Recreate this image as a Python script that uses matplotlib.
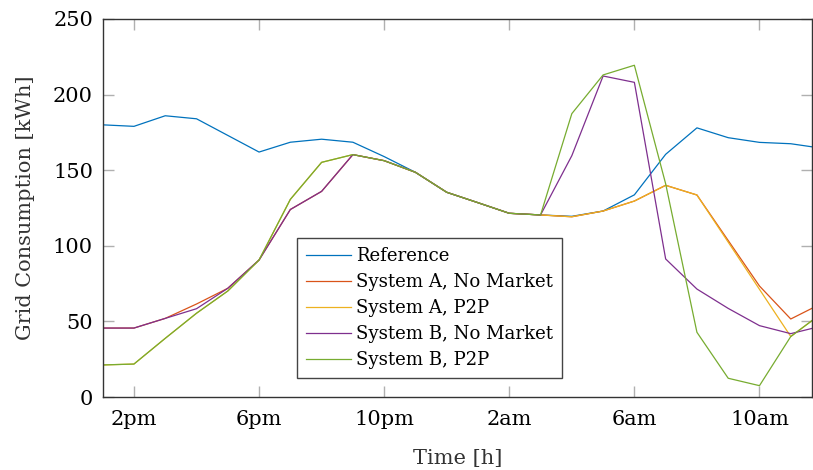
import matplotlib
matplotlib.use("Agg")
import matplotlib.pyplot as plt

hours = list(range(13, 37))  # 1pm .. noon next day
reference = [180, 179, 186, 184, 173, 162, 168.5, 170.5, 168.5, 159, 148.6, 135.4,
             128.5, 121.5, 120.4, 119.5, 123, 133.7, 160.5, 178, 171.5, 168.4, 167.5, 164.5]
sysA_nomarket = [45.6, 45.6, 52, 61.5, 71.9, 90.6, 124, 136, 160.3, 156.3, 148.6, 135.4,
                 128.5, 121.5, 120.4, 119.2, 123, 129.6, 140, 133.6, 103.5, 73.4, 51.6, 62]
sysA_p2p = [21.2, 21.8, 38.8, 55.4, 70.1, 90.6, 130.7, 155.2, 160.3, 156.3, 148.6, 135.4,
            128.5, 121.5, 120.4, 119.2, 123, 129.6, 140, 133.6, 102.4, 71.2, 40, 55.5]
sysB_nomarket = [45.6, 45.6, 52, 58.4, 71.9, 90.6, 124, 136, 160.3, 156.3, 148.6, 135.4,
                 128.5, 121.5, 120.4, 159.6, 212.3, 208.1, 91.3, 71.4, 58.6, 47.2, 41.9, 47]
sysB_p2p = [21.2, 21.8, 38.8, 55.4, 70.1, 90.6, 130.7, 155.2, 160.3, 156.3, 148.6, 135.4,
            128.5, 121.5, 120.4, 187.4, 213, 219.4, 141, 42.8, 12.4, 7.5, 40, 55.5]

series_labels = ["Reference", "System A, No Market", "System A, P2P",
                 "System B, No Market", "System B, P2P"]
series_colors = ["#0072BD", "#D95319", "#EDB120", "#7E2F8E", "#77AC30"]

xtick_pos = [14, 18, 22, 26, 30, 34]
xtick_labels = ["2pm", "6pm", "10pm", "2am", "6am", "10am"]
ytick_pos = [0, 50, 100, 150, 200, 250]

plt.rcParams['font.family'] = ['DejaVu Serif']

fig = plt.figure(figsize=(8.13, 4.70), dpi=100)
ax = fig.add_axes([0.1263, 0.1553, 0.8725, 0.8043])

for data, lab, col in zip([reference, sysA_nomarket, sysA_p2p, sysB_nomarket, sysB_p2p],
                          series_labels, series_colors):
    ax.plot(hours, data, color=col, lw=0.9, label=lab)

ax.set_xlim(13, 35.68)
ax.set_ylim(0, 250)
ax.set_xticks(xtick_pos)
ax.set_xticklabels(xtick_labels)
ax.set_yticks(ytick_pos)

ax.tick_params(axis='both', direction='in', length=8, width=1, color='#b0b0b0',
               top=True, right=True, labelsize=15, pad=7, labelcolor='black')
ax.tick_params(axis='x', pad=9)
for sp in ax.spines.values():
    sp.set_color('#333333')
    sp.set_linewidth(1)

ax.set_xlabel("Time [h]", fontsize=15, color='#333333', labelpad=15)
ax.set_ylabel("Grid Consumption [kWh]", fontsize=15, color='#333333', labelpad=13)

leg = ax.legend(loc='lower left', bbox_to_anchor=(0.274, 0.050), borderaxespad=0,
                fontsize=13.1, frameon=True, fancybox=False, edgecolor='#444444',
                framealpha=1, handlelength=2.45, handletextpad=0.3, labelspacing=0.44,
                borderpad=0.5)
leg.get_frame().set_linewidth(1)

fig.savefig("out.png", dpi=100)
